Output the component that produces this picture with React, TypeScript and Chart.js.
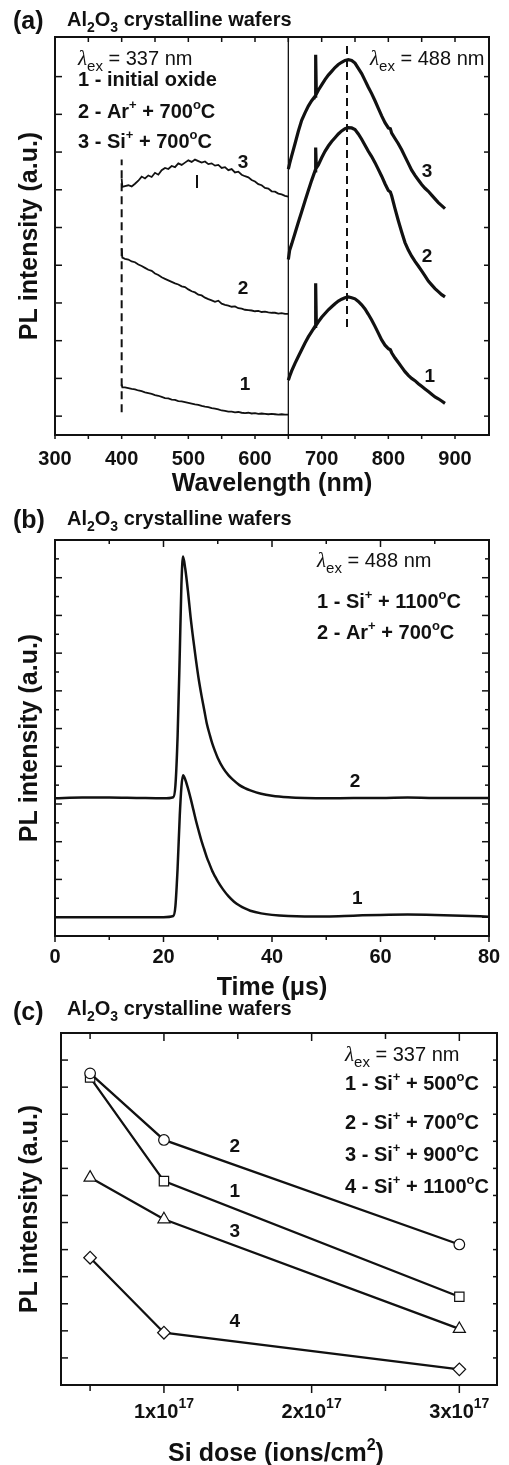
import React, { useEffect, useRef } from "react";
import { Chart, registerables } from "chart.js";

Chart.register(...registerables);

const INK = "#111111";
const SANS = '"Liberation Sans", Arial, Helvetica, sans-serif';
const SERIF = '"Liberation Serif", "Times New Roman", serif';

// ---------------- Panel (a): PL spectra ----------------
const A_LEFT_X = [400, 401, 405, 410, 415, 420, 425, 430, 435, 440, 445, 450, 455, 460, 465, 470, 475, 480, 485, 490, 495, 500, 505, 510, 515, 520, 525, 530, 535, 540, 545, 550, 555, 560, 565, 570, 575, 580, 585, 590, 595, 600, 605, 610, 615, 620, 625, 630, 635, 640, 645, 650];
const A_LEFT_1 = [0.84, 0.76, 0.76, 0.74, 0.72, 0.71, 0.68, 0.66, 0.63, 0.61, 0.59, 0.56, 0.54, 0.51, 0.48, 0.47, 0.44, 0.43, 0.40, 0.39, 0.37, 0.35, 0.33, 0.31, 0.30, 0.27, 0.25, 0.24, 0.21, 0.20, 0.18, 0.15, 0.14, 0.12, 0.12, 0.10, 0.11, 0.09, 0.08, 0.09, 0.07, 0.08, 0.06, 0.07, 0.06, 0.05, 0.06, 0.05, 0.04, 0.05, 0.04, 0.04];
const A_LEFT_2 = [4.45, 4.20, 4.17, 4.15, 4.10, 4.08, 4.02, 3.98, 3.93, 3.88, 3.85, 3.78, 3.74, 3.68, 3.64, 3.60, 3.56, 3.52, 3.49, 3.44, 3.42, 3.36, 3.31, 3.28, 3.22, 3.20, 3.14, 3.10, 3.07, 3.03, 3.06, 2.98, 2.95, 2.93, 2.90, 2.91, 2.86, 2.85, 2.82, 2.81, 2.80, 2.78, 2.79, 2.76, 2.77, 2.75, 2.74, 2.74, 2.72, 2.73, 2.71, 2.71];
const A_LEFT_3 = [6.30, 6.08, 6.10, 6.12, 6.09, 6.16, 6.24, 6.35, 6.30, 6.38, 6.34, 6.45, 6.40, 6.52, 6.58, 6.55, 6.63, 6.60, 6.70, 6.66, 6.72, 6.78, 6.74, 6.80, 6.76, 6.72, 6.75, 6.68, 6.70, 6.64, 6.66, 6.58, 6.60, 6.52, 6.55, 6.46, 6.48, 6.40, 6.36, 6.33, 6.26, 6.22, 6.15, 6.12, 6.05, 6.03, 5.96, 5.95, 5.90, 5.88, 5.84, 5.82];

const A_RIGHT_X = [650, 652, 655, 660, 665, 670, 675, 680, 685, 690, 691, 692, 695, 700, 705, 710, 715, 720, 725, 730, 735, 740, 745, 750, 755, 760, 765, 770, 775, 780, 785, 790, 795, 800, 803, 805, 810, 815, 820, 825, 830, 835, 840, 845, 850, 855, 860, 865, 870, 875, 880, 885];
const A_RIGHT_1 = [0.95, 1.06, 1.20, 1.40, 1.58, 1.76, 1.94, 2.10, 2.24, 2.38, 3.52, 2.42, 2.50, 2.62, 2.72, 2.82, 2.90, 2.98, 3.05, 3.10, 3.14, 3.16, 3.14, 3.11, 3.04, 2.95, 2.84, 2.70, 2.55, 2.38, 2.20, 2.02, 1.88, 1.79, 1.76, 1.68, 1.54, 1.42, 1.30, 1.18, 1.08, 1.00, 0.94, 0.86, 0.79, 0.72, 0.65, 0.58, 0.51, 0.46, 0.40, 0.34];
const A_RIGHT_2 = [4.15, 4.40, 4.56, 4.85, 5.14, 5.42, 5.70, 5.98, 6.25, 6.50, 7.12, 6.58, 6.66, 6.85, 7.02, 7.16, 7.28, 7.38, 7.48, 7.56, 7.62, 7.65, 7.64, 7.60, 7.48, 7.34, 7.18, 7.02, 6.88, 6.72, 6.54, 6.36, 6.16, 5.98, 5.94, 5.84, 5.50, 5.18, 4.88, 4.60, 4.40, 4.24, 4.10, 3.98, 3.85, 3.72, 3.58, 3.48, 3.38, 3.30, 3.22, 3.16];
const A_RIGHT_3 = [6.55, 6.70, 6.90, 7.22, 7.55, 7.84, 8.04, 8.22, 8.36, 8.48, 9.58, 8.54, 8.64, 8.78, 8.92, 9.04, 9.14, 9.24, 9.32, 9.38, 9.43, 9.45, 9.43, 9.36, 9.22, 9.08, 8.90, 8.72, 8.55, 8.36, 8.16, 7.96, 7.78, 7.64, 7.62, 7.50, 7.36, 7.22, 7.06, 6.88, 6.70, 6.52, 6.38, 6.26, 6.14, 6.04, 5.96, 5.86, 5.76, 5.66, 5.58, 5.50];

// guide lines (wavelength, intensity span)
const A_SPLIT_X = [650, 650];
const A_SPLIT_Y = [-0.5, 10.05];
const A_DASH400_X = [400, 400];
const A_DASH400_Y = [0.1, 6.8];
const A_DASH738_X = [738, 738];
const A_DASH738_Y = [2.36, 9.9];
const A_DASH513_X = [513, 513];
const A_DASH513_Y = [6.05, 6.39];

const A_X_MAJOR = [300, 400, 500, 600, 700, 800, 900];
const A_X_MINOR = [350, 450, 550, 650, 750, 850];
const A_Y_TICKS = [0, 1, 2, 3, 4, 5, 6, 7, 8, 9];

// ---------------- Panel (b): PL kinetics ----------------
const B_X = [0, 5, 10, 15, 20, 21.8, 22.2, 22.6, 23.0, 23.3, 23.6, 24.0, 24.5, 25.0, 25.5, 26.0, 26.5, 27.0, 27.5, 28.0, 28.5, 29.0, 29.5, 30.0, 31, 32, 33, 34, 35, 36, 38, 40, 43, 46, 50, 55, 60, 65, 70, 75, 80];
const B_1 = [0, 0, 0, 0, 0, 0.03, 0.3, 1.3, 2.7, 3.45, 3.76, 3.65, 3.42, 3.15, 2.85, 2.55, 2.28, 2.02, 1.80, 1.58, 1.40, 1.22, 1.08, 0.95, 0.73, 0.55, 0.41, 0.31, 0.23, 0.17, 0.10, 0.06, 0.03, 0.02, 0.02, 0.04, 0.06, 0.07, 0.06, 0.04, 0.01];
const B_2 = [3.15, 3.17, 3.17, 3.16, 3.15, 3.18, 3.5, 4.8, 7.0, 8.8, 9.56, 9.25, 8.65, 7.95, 7.35, 6.80, 6.30, 5.88, 5.50, 5.12, 4.85, 4.60, 4.40, 4.22, 3.95, 3.76, 3.62, 3.50, 3.42, 3.36, 3.27, 3.22, 3.18, 3.16, 3.15, 3.16, 3.16, 3.17, 3.16, 3.16, 3.16];

const B_X_MAJOR = [0, 20, 40, 60, 80];
const B_X_MINOR = [10, 30, 50, 70];
const B_Y_MAJOR = [0, 1, 2, 3, 4, 5, 6, 7, 8, 9];
const B_Y_MINOR = [0.5, 1.5, 2.5, 3.5, 4.5, 5.5, 6.5, 7.5, 8.5, 9.5];

// ---------------- Panel (c): PL vs Si dose ----------------
const C_DOSE = [5e16, 1e17, 3e17];
const C_500 = [11.36, 7.53, 3.26];
const C_700 = [11.51, 9.05, 5.19];
const C_900 = [7.66, 6.12, 2.07];
const C_1100 = [4.70, 1.93, 0.58];

const C_X_MAJOR = [1e17, 2e17, 3e17];
const C_X_MINOR = [5e16, 1.5e17, 2.5e17];
const C_Y_TICKS = [1, 2, 3, 4, 5, 6, 7, 8, 9, 10, 11, 12];

// ---------------- text helpers ----------------
type Seg = { t: string; s: number; b?: boolean; i?: boolean; dy?: number; f?: string };
const fontOf = (g: Seg) => `${g.i ? "italic " : ""}${g.b ? "bold " : ""}${g.s}px ${g.f || SANS}`;

function drawRich(ctx: CanvasRenderingContext2D, x: number, y: number, segs: Seg[], align: "left" | "center" = "left") {
  ctx.textAlign = "left";
  ctx.textBaseline = "alphabetic";
  let w = 0;
  for (const g of segs) {
    ctx.font = fontOf(g);
    w += ctx.measureText(g.t).width;
  }
  let cx = align === "center" ? x - w / 2 : x;
  for (const g of segs) {
    ctx.font = fontOf(g);
    ctx.fillText(g.t, cx, y + (g.dy || 0));
    cx += ctx.measureText(g.t).width;
  }
}

const BT = (t: string, s = 20): Seg => ({ t, s, b: true });
const SUP = (t: string): Seg => ({ t, s: 13, b: true, dy: -9 });
const SUB = (t: string): Seg => ({ t, s: 14, b: true, dy: 6 });
const lambda = (nm: string): Seg[] => [
  { t: "λ", s: 21, i: true, f: SERIF },
  { t: "ex", s: 15, dy: 6 },
  { t: ` = ${nm} nm`, s: 20 },
];
const treat = (n: string, ion: string, temp: string): Seg[] => [BT(`${n} - ${ion}`), SUP("+"), BT(` + ${temp}`), SUP("o"), BT("C")];
const SUBTITLE: Seg[] = [BT("Al"), SUB("2"), BT("O"), SUB("3"), BT(" crystalline wafers")];
const YTITLE: Seg[] = [BT("PL intensity (a.u.)", 25)];

// ---------------- panel spec ----------------
type Side = "top" | "bottom" | "left" | "right";
interface TickSpec { side: Side; values: number[]; len: number; out?: boolean }
interface TextSpec { x: number; y: number; segs: Seg[]; align?: "left" | "center"; rotate?: boolean }
interface CurveLabel { x: number; y: number; text: string }
interface PanelSpec {
  top: number;
  height: number;
  area: { l: number; r: number; t: number; b: number };
  xRange: [number, number];
  yRange: [number, number];
  ticks: TickSpec[];
  tickLabelValues: number[];
  tickLabel: (v: number) => Seg[];
  tickLabelY: number;
  texts: TextSpec[];
  curveLabels: CurveLabel[];
}

function decoPlugin(p: PanelSpec) {
  return {
    id: "deco",
    afterDraw(chart: any) {
      const ctx: CanvasRenderingContext2D = chart.ctx;
      const { left, right, top, bottom } = chart.chartArea;
      const xs = chart.scales.x;
      const ys = chart.scales.y;
      ctx.save();
      ctx.strokeStyle = INK;
      ctx.fillStyle = INK;
      ctx.lineCap = "butt";
      ctx.lineWidth = 1.5;
      for (const t of p.ticks) {
        for (const v of t.values) {
          ctx.beginPath();
          if (t.side === "bottom" || t.side === "top") {
            const x = xs.getPixelForValue(v);
            const y0 = t.side === "bottom" ? bottom : top;
            const dir = (t.side === "bottom" ? -1 : 1) * (t.out ? -1 : 1);
            ctx.moveTo(x, y0);
            ctx.lineTo(x, y0 + dir * t.len);
          } else {
            const y = ys.getPixelForValue(v);
            const x0 = t.side === "left" ? left : right;
            const dir = (t.side === "left" ? 1 : -1) * (t.out ? -1 : 1);
            ctx.moveTo(x0, y);
            ctx.lineTo(x0 + dir * t.len, y);
          }
          ctx.stroke();
        }
      }
      ctx.lineWidth = 2;
      ctx.strokeRect(left, top, right - left, bottom - top);

      // curve labels (data coordinates)
      for (const c of p.curveLabels) {
        drawRich(ctx, xs.getPixelForValue(c.x), ys.getPixelForValue(c.y) + 6.5, [BT(c.text, 19)], "center");
      }
      // tick labels
      for (const v of p.tickLabelValues) {
        drawRich(ctx, xs.getPixelForValue(v), p.tickLabelY - p.top, p.tickLabel(v), "center");
      }
      // texts in page coordinates
      ctx.translate(0, -p.top);
      for (const t of p.texts) {
        if (t.rotate) {
          ctx.save();
          ctx.translate(t.x, t.y);
          ctx.rotate(-Math.PI / 2);
          drawRich(ctx, 0, 0, t.segs, "center");
          ctx.restore();
        } else {
          drawRich(ctx, t.x, t.y, t.segs, t.align || "left");
        }
      }
      ctx.restore();
    },
  };
}

const pts = (xs: number[], ys: number[]) => xs.map((x, i) => ({ x, y: ys[i] }));

const line = (xs: number[], ys: number[], width: number, extra: any = {}) => ({
  data: pts(xs, ys),
  showLine: true,
  borderColor: INK,
  borderWidth: width,
  pointRadius: 0,
  fill: false,
  tension: 0,
  ...extra,
});

function makeConfig(p: PanelSpec, datasets: any[]) {
  return {
    type: "scatter" as const,
    data: { datasets },
    options: {
      animation: false as const,
      responsive: false,
      maintainAspectRatio: false,
      events: [] as any[],
      layout: { padding: { left: 0, right: 509 - p.area.r, top: p.area.t - p.top, bottom: 0 } },
      plugins: { legend: { display: false }, tooltip: { enabled: false } },
      scales: {
        x: {
          type: "linear" as const,
          position: "bottom" as const,
          min: p.xRange[0],
          max: p.xRange[1],
          grid: { display: false },
          border: { display: false },
          ticks: { display: false },
          afterFit: (s: any) => {
            s.height = p.top + p.height - p.area.b;
          },
        },
        y: {
          type: "linear" as const,
          position: "left" as const,
          min: p.yRange[0],
          max: p.yRange[1],
          grid: { display: false },
          border: { display: false },
          ticks: { display: false },
          afterFit: (s: any) => {
            s.width = p.area.l;
          },
        },
      },
    },
    plugins: [decoPlugin(p)],
  };
}

// ---------------- panels ----------------
const SPEC_A: PanelSpec = {
  top: 0,
  height: 500,
  area: { l: 55, r: 489, t: 37, b: 435 },
  xRange: [300, 951],
  yRange: [-0.5, 10.05],
  ticks: [
    { side: "bottom", values: [...A_X_MAJOR, ...A_X_MINOR], len: 4, out: true },
    { side: "top", values: [...A_X_MAJOR, ...A_X_MINOR], len: 5 },
    { side: "left", values: A_Y_TICKS, len: 7 },
    { side: "right", values: A_Y_TICKS, len: 5 },
  ],
  tickLabelValues: A_X_MAJOR,
  tickLabel: (v) => [BT(String(v), 20)],
  tickLabelY: 465,
  texts: [
    { x: 13, y: 29, segs: [BT("(a)", 25)] },
    { x: 67, y: 25.5, segs: SUBTITLE },
    { x: 78, y: 65, segs: lambda("337") },
    { x: 78, y: 86, segs: [BT("1 - initial oxide")] },
    { x: 78, y: 118, segs: treat("2", "Ar", "700") },
    { x: 78, y: 148, segs: treat("3", "Si", "700") },
    { x: 370, y: 65, segs: lambda("488") },
    { x: 37, y: 236, segs: YTITLE, rotate: true },
    { x: 272, y: 491, segs: [BT("Wavelength (nm)", 25)], align: "center" },
  ],
  curveLabels: [
    { x: 582, y: 6.76, text: "3" },
    { x: 582, y: 3.42, text: "2" },
    { x: 585, y: 0.87, text: "1" },
    { x: 858, y: 6.52, text: "3" },
    { x: 858, y: 4.27, text: "2" },
    { x: 862, y: 1.09, text: "1" },
  ],
};

const SPEC_B: PanelSpec = {
  top: 490,
  height: 514,
  area: { l: 55, r: 489, t: 540, b: 936 },
  xRange: [0, 80],
  yRange: [-0.5, 10],
  ticks: [
    { side: "bottom", values: B_X_MAJOR, len: 6, out: true },
    { side: "bottom", values: B_X_MINOR, len: 4, out: true },
    { side: "top", values: B_X_MAJOR, len: 7 },
    { side: "top", values: B_X_MINOR, len: 4 },
    { side: "left", values: B_Y_MAJOR, len: 7 },
    { side: "left", values: B_Y_MINOR, len: 4 },
    { side: "right", values: B_Y_MAJOR, len: 7 },
    { side: "right", values: B_Y_MINOR, len: 4 },
  ],
  tickLabelValues: B_X_MAJOR,
  tickLabel: (v) => [BT(String(v), 20)],
  tickLabelY: 963,
  texts: [
    { x: 13, y: 528, segs: [BT("(b)", 25)] },
    { x: 67, y: 525, segs: SUBTITLE },
    { x: 317, y: 567, segs: lambda("488") },
    { x: 317, y: 608, segs: treat("1", "Si", "1100") },
    { x: 317, y: 639, segs: treat("2", "Ar", "700") },
    { x: 37, y: 738, segs: YTITLE, rotate: true },
    { x: 272, y: 995, segs: [BT("Time (μs)", 25)], align: "center" },
  ],
  curveLabels: [
    { x: 55.3, y: 3.63, text: "2" },
    { x: 55.7, y: 0.52, text: "1" },
  ],
};

const SPEC_C: PanelSpec = {
  top: 994,
  height: 471,
  area: { l: 61, r: 497, t: 1033, b: 1385 },
  xRange: [3.03e16, 3.255e17],
  yRange: [0, 13],
  ticks: [
    { side: "bottom", values: C_X_MAJOR, len: 8, out: true },
    { side: "bottom", values: C_X_MINOR, len: 6, out: true },
    { side: "top", values: C_X_MAJOR, len: 8 },
    { side: "top", values: C_X_MINOR, len: 6 },
    { side: "left", values: C_Y_TICKS, len: 7 },
    { side: "right", values: C_Y_TICKS, len: 4 },
  ],
  tickLabelValues: C_X_MAJOR,
  tickLabel: (v) => [BT(`${Math.round(v / 1e17)}x10`, 20), { t: "17", s: 14, b: true, dy: -10 }],
  tickLabelY: 1418,
  texts: [
    { x: 13, y: 1020, segs: [BT("(c)", 25)] },
    { x: 67, y: 1015, segs: SUBTITLE },
    { x: 345, y: 1061, segs: lambda("337") },
    { x: 345, y: 1090, segs: treat("1", "Si", "500") },
    { x: 345, y: 1129, segs: treat("2", "Si", "700") },
    { x: 345, y: 1161, segs: treat("3", "Si", "900") },
    { x: 345, y: 1193, segs: treat("4", "Si", "1100") },
    { x: 37, y: 1209, segs: YTITLE, rotate: true },
    { x: 276, y: 1461, segs: [BT("Si dose (ions/cm", 25), { t: "2", s: 16, b: true, dy: -11 }, BT(")", 25)], align: "center" },
  ],
  curveLabels: [
    { x: 1.48e17, y: 8.86, text: "2" },
    { x: 1.48e17, y: 7.2, text: "1" },
    { x: 1.48e17, y: 5.72, text: "3" },
    { x: 1.48e17, y: 2.4, text: "4" },
  ],
};

const marker = (ys: number[], style: string, r: number) => ({
  data: pts(C_DOSE, ys),
  showLine: true,
  borderColor: INK,
  borderWidth: 2.3,
  pointStyle: style,
  pointRadius: r,
  pointBackgroundColor: "#ffffff",
  pointBorderColor: INK,
  pointBorderWidth: 1.2,
  fill: false,
  tension: 0,
});

const configA = () =>
  makeConfig(SPEC_A, [
    line(A_LEFT_X, A_LEFT_1, 1.8),
    line(A_LEFT_X, A_LEFT_2, 1.8),
    line(A_LEFT_X, A_LEFT_3, 1.8),
    line(A_RIGHT_X, A_RIGHT_1, 3.2),
    line(A_RIGHT_X, A_RIGHT_2, 3.2),
    line(A_RIGHT_X, A_RIGHT_3, 3.2),
    line(A_SPLIT_X, A_SPLIT_Y, 1.3),
    line(A_DASH400_X, A_DASH400_Y, 2, { borderDash: [8, 5] }),
    line(A_DASH738_X, A_DASH738_Y, 2, { borderDash: [8, 5] }),
    line(A_DASH513_X, A_DASH513_Y, 2),
  ]);

const configB = () =>
  makeConfig(SPEC_B, [
    line(B_X, B_1, 2.5, { cubicInterpolationMode: "monotone" }),
    line(B_X, B_2, 2.5, { cubicInterpolationMode: "monotone" }),
  ]);

const configC = () =>
  makeConfig(SPEC_C, [
    marker(C_700, "circle", 5.3),
    marker(C_500, "rect", 6.6),
    marker(C_900, "triangle", 7),
    marker(C_1100, "rectRot", 6.3),
  ]);

function Panel({ spec, config }: { spec: PanelSpec; config: () => any }) {
  const ref = useRef<HTMLCanvasElement>(null);
  useEffect(() => {
    if (!ref.current) return;
    const chart = new Chart(ref.current, config());
    return () => chart.destroy();
  }, []);
  return (
    <canvas
      ref={ref}
      width={509}
      height={spec.height}
      style={{ position: "absolute", left: 0, top: spec.top, width: 509, height: spec.height }}
    />
  );
}

export default function App() {
  return (
    <div style={{ position: "absolute", left: 0, top: 0, width: 509, height: 1465, background: "#ffffff", overflow: "hidden" }}>
      <Panel spec={SPEC_A} config={configA} />
      <Panel spec={SPEC_B} config={configB} />
      <Panel spec={SPEC_C} config={configC} />
    </div>
  );
}
